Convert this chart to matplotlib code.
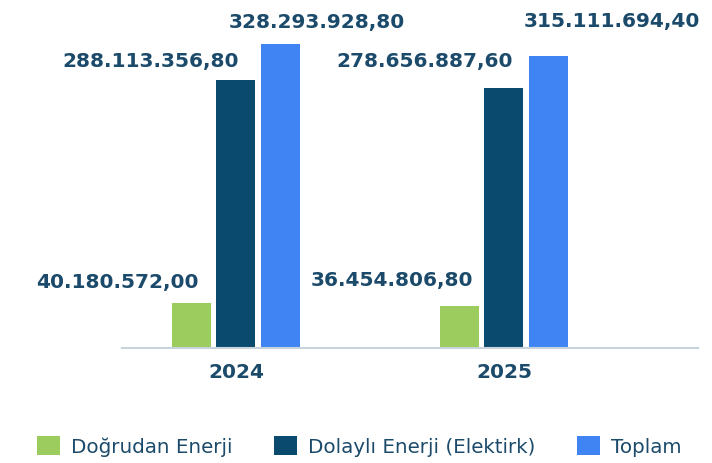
import numpy as np
import matplotlib
matplotlib.use("Agg")
import matplotlib.pyplot as plt

years = ["2024", "2025"]
series = ["Doğrudan Enerji", "Dolaylı Enerji (Elektirk)", "Toplam"]
dogrudan = [40180572.00, 36454806.80]
dolayli = [288113356.80, 278656887.60]
toplam = [328293928.80, 315111694.40]
labels = [["40.180.572,00", "36.454.806,80"],
          ["288.113.356,80", "278.656.887,60"],
          ["328.293.928,80", "315.111.694,40"]]

colors = ["#9CCB5E", "#0B4A6F", "#3F84F2"]
text_color = "#1B4A6A"
# label offsets in pixels from bar top (per series, per year)
offsets = [[(-74, 21), (-68, 26)],
           [(-85, 19), (-79, 28)],
           [(37, 22), (64, 35)]]

base = -10.5e6
fig = plt.figure(figsize=(7.12, 4.64), dpi=100)
ax = fig.add_axes([0.1713, 0.2478, 0.809, 0.709])

x = np.arange(len(years))
w = 0.1455
step = 0.165
for i, vals in enumerate([dogrudan, dolayli, toplam]):
    xs = x + (i - 1) * step
    ax.bar(xs, np.array(vals) - base, bottom=base, width=w, color=colors[i],
           label=series[i])
    for j in range(len(years)):
        ax.annotate(labels[i][j], (xs[j], vals[j]), xytext=offsets[i][j],
                    textcoords="offset pixels", ha="center", va="center",
                    fontsize=14.5, fontweight="bold", color=text_color)

ax.set_xlim(-0.4254, 1.7239)
ax.set_ylim(base, 356e6)
ax.set_xticks(x)
ax.set_xticklabels(years, fontsize=14.5, fontweight="bold", color=text_color)
ax.tick_params(axis="x", length=0, pad=10)
ax.set_yticks([])
for s in ["top", "right", "left"]:
    ax.spines[s].set_visible(False)
ax.spines["bottom"].set_color("#C9D3DC")
ax.spines["bottom"].set_linewidth(1.5)

leg = fig.legend(loc="center", bbox_to_anchor=(0.505, 0.037), ncol=3,
                 frameon=False, fontsize=14.3, handlelength=1.15,
                 handleheight=1.1, handletextpad=0.55, columnspacing=2.1)
for t in leg.get_texts():
    t.set_color(text_color)

fig.savefig("out.png", dpi=100)
